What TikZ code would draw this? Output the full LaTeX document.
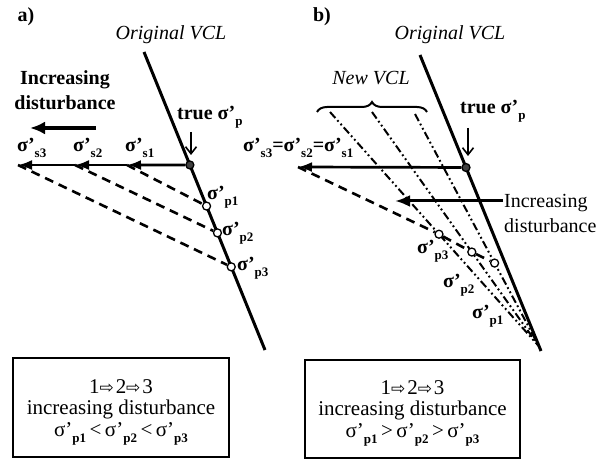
\documentclass[tikz,border=0pt]{standalone}
\usepackage{fontspec}
\setmainfont{Liberation Serif}
\newfontfamily\symfont{DejaVu Sans}
\usetikzlibrary{arrows.meta,backgrounds,calc,positioning,decorations.pathreplacing}
\newcommand{\sgm}[1]{σ’\raisebox{-6pt}{\bfseries\fontsize{13}{13}\selectfont #1}}
\newcommand{\nxt}{{\symfont\fontsize{17}{17}\selectfont ⇨}\kern2pt}

\begin{document}
\begin{tikzpicture}[x=1pt, y=-1pt,
  txt/.style={font=\fontsize{20}{25}\selectfont, inner sep=0pt},
  btxt/.style={txt, font=\fontsize{20}{25}\selectfont\bfseries},
  itxt/.style={txt, font=\fontsize{20}{25}\selectfont\itshape},
  sig/.style={btxt, anchor=base west},
  vcl/.style={line width=3pt},
  newvcl/.style={line width=2pt,
                 dash pattern=on 8pt off 3pt on 1.8pt off 3pt on 1.8pt off 3pt},
  trail/.style={line width=2.6pt, dash pattern=on 9pt off 6pt},
  load/.style={line width=2.7pt, -{Latex[length=14pt,width=10pt]}},
  trend/.style={line width=3.4pt, -{Latex[length=15pt,width=13pt]}},
  pointer/.style={line width=1.6pt, -{Straight Barb[length=7pt,width=11pt]}},
  ring/.style={circle, draw, line width=1.3pt, fill=white, inner sep=0pt,
               minimum size=8pt},
  yield/.style={ring, fill=black!75},
  frame/.style={draw, line width=2pt, inner sep=0pt},
  boxtext/.style={align=center, inner sep=0pt, font=\fontsize{21}{21.5}\selectfont},
]
  \useasboundingbox (0,0) rectangle (597,465);

  % a) one virgin compression line, disturbed paths end on it
  \node[btxt] (lab-a) at (26,17) {a)};
  \node[itxt] (orig-a) at (171,35) {Original VCL};
  \coordinate (a-top) at (144,52);
  \coordinate (a-bot) at (265,350);
  \node[yield] (a-yield) at ($(a-top)!0.379!(a-bot)$) {};
  \node[ring] (a-p1) at ($(a-top)!0.517!(a-bot)$) {};
  \node[ring] (a-p2) at ($(a-top)!0.607!(a-bot)$) {};
  \node[ring] (a-p3) at ($(a-top)!0.721!(a-bot)$) {};
  \coordinate (a-s1) at (127,165);
  \coordinate (a-s2) at (75,165);
  \coordinate (a-s3) at (18,165);
  \begin{scope}[on background layer]
    \draw[vcl] (a-top) -- (a-bot);
    \draw[trail] (a-s1) -- (a-p1);
    \draw[trail] (a-s2) -- (a-p2);
    \draw[trail] (a-s3) -- (a-p3);
    \draw[load] (a-yield) -- (a-s1);
    \draw[load] (a-s1) -- (a-s2);
    \draw[load] (a-s2) -- (a-s3);
  \end{scope}
  \node[sig] (a-ls3) at (17,152) {\sgm{s3}};
  \node[sig] (a-ls2) at (73,152) {\sgm{s2}};
  \node[sig] (a-ls1) at (125,152) {\sgm{s1}};
  \node[sig] (a-lp1) at (207,200) {\sgm{p1}};
  \node[sig] (a-lp2) at (222,236) {\sgm{p2}};
  \node[sig] (a-lp3) at (237,270) {\sgm{p3}};
  \node[sig] (a-true) at (177,120) {true \sgm{p}};
  \coordinate (a-true-end) at (191,155);
  \draw[pointer] (191,132) -- (a-true-end);
  \node[btxt, align=center] (a-inc) at (65,90) {Increasing\\disturbance};
  \coordinate (a-inc-tip) at (30,128);
  \draw[trend] (96,128) -- (a-inc-tip);
  \node[frame, minimum width=216pt, minimum height=99pt] (a-box) at (121,407.5) {};
  \node[boxtext] (a-note) at (121,412)
    {1\nxt 2\nxt 3\\increasing disturbance\\\sgm{p1}\,<\,\sgm{p2}\,<\,\sgm{p3}};

  % b) disturbed samples follow new VCLs that meet the original one
  \node[btxt] (lab-b) at (322,17) {b)};
  \node[itxt] (orig-b) at (450,35) {Original VCL};
  \node[itxt] (new-b) at (371,78) {New VCL};
  \draw[line width=2pt, decorate, decoration={brace, amplitude=10pt}]
    (317,112) -- (427,112);
  \coordinate (b-top) at (420,55);
  \coordinate (b-bot) at (541,351);
  \coordinate (b-meet) at ($(b-top)!0.985!(b-bot)$);
  \coordinate (n1-top) at (330,112);
  \coordinate (n2-top) at (372,112);
  \coordinate (n3-top) at (415,114);
  \node[yield] (b-yield) at ($(b-top)!0.38!(b-bot)$) {};
  \node[ring] (b-p3) at ($(n1-top)!0.521!(b-meet)$) {};
  \node[ring] (b-p2) at ($(n2-top)!0.597!(b-meet)$) {};
  \node[ring] (b-p1) at ($(n3-top)!0.641!(b-meet)$) {};
  \coordinate (b-s) at (298,167);
  \begin{scope}[on background layer]
    \draw[vcl] (b-top) -- (b-bot);
    \draw[newvcl] (n1-top) -- (b-meet);
    \draw[newvcl] (n2-top) -- (b-meet);
    \draw[newvcl] (n3-top) -- (b-meet);
    \draw[trail] (b-s) -- (b-p3) -- (b-p2) -- (b-p1);
    \draw[load] (b-yield) -- (b-s);
  \end{scope}
  \node[sig] (b-ls) at (243,152) {\sgm{s3}=\sgm{s2}=\sgm{s1}};
  \node[sig] (b-lp3) at (417,253) {\sgm{p3}};
  \node[sig] (b-lp2) at (443,287) {\sgm{p2}};
  \node[sig] (b-lp1) at (472,318) {\sgm{p1}};
  \node[sig] (b-true) at (460,114) {true \sgm{p}};
  \coordinate (b-true-end) at (468,156);
  \draw[pointer] (468,128) -- (b-true-end);
  \node[txt, align=left, anchor=west] (b-inc) at (504,213) {Increasing\\disturbance};
  \coordinate (b-inc-tip) at (395,201);
  \draw[line width=3pt, -{Latex[length=15pt,width=12pt]}] (503,201) -- (b-inc-tip);
  \node[frame, minimum width=215pt, minimum height=98pt] (b-box) at (412.5,409) {};
  \node[boxtext] (b-note) at (412.5,413)
    {1\nxt 2\nxt 3\\increasing disturbance\\\sgm{p1}\,>\,\sgm{p2}\,>\,\sgm{p3}};
\end{tikzpicture}
\end{document}
